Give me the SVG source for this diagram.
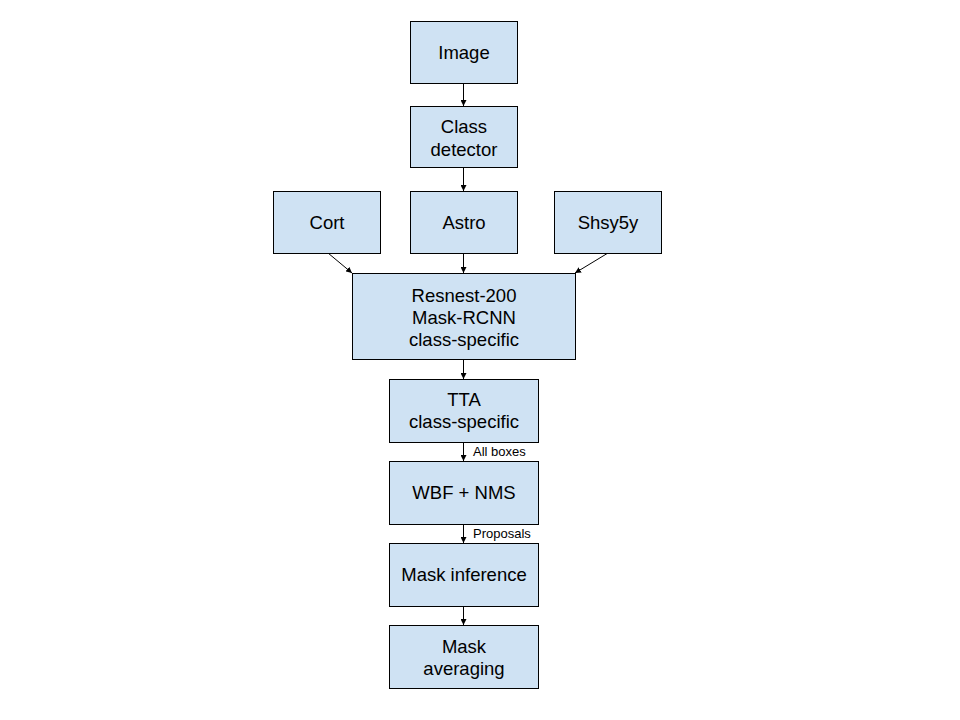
<svg xmlns="http://www.w3.org/2000/svg" width="960" height="720" viewBox="0 0 960 720">
<style>
.n rect{fill:#cfe2f3;stroke:#000;stroke-width:1}
.n text{font-family:"Liberation Sans",Arial,sans-serif;font-size:18.5px;fill:#000;text-anchor:middle}
.c line{stroke:#000;stroke-width:1;marker-end:url(#ah)}
.lbl{font-family:"Liberation Sans",Arial,sans-serif;font-size:13px;fill:#000}
</style>
<defs>
<marker id="ah" viewBox="0 0 10 10" refX="10" refY="5" markerWidth="6" markerHeight="6" markerUnits="userSpaceOnUse" orient="auto">
<path d="M0,0 L10,5 L0,10 z" fill="#000"/>
</marker>
</defs>
<rect width="960" height="720" fill="#fff"/>
<g class="c">
<line x1="463.5" y1="83" x2="463.5" y2="106"/>
<line x1="463.5" y1="167" x2="463.5" y2="191"/>
<line x1="463.5" y1="253" x2="463.5" y2="273"/>
<line x1="328" y1="253" x2="352" y2="273"/>
<line x1="608" y1="253" x2="575" y2="273"/>
<line x1="463.5" y1="359" x2="463.5" y2="379"/>
<line x1="463.5" y1="442" x2="463.5" y2="461"/>
<line x1="463.5" y1="524" x2="463.5" y2="543"/>
<line x1="463.5" y1="606" x2="463.5" y2="625"/>
<text class="lbl" x="473" y="456">All boxes</text>
<text class="lbl" x="473" y="538">Proposals</text>
</g>
<g id="image" class="n"><rect x="410.5" y="21.5" width="107" height="62"/><text x="464" y="59">Image</text></g>
<g id="class-detector" class="n"><rect x="410.5" y="106.5" width="107" height="61"/><text x="464" y="133">Class</text><text x="464" y="156">detector</text></g>
<g id="cort" class="n"><rect x="273.5" y="191.5" width="107" height="62"/><text x="327" y="229">Cort</text></g>
<g id="astro" class="n"><rect x="410.5" y="191.5" width="107" height="62"/><text x="464" y="229">Astro</text></g>
<g id="shsy5y" class="n"><rect x="554.5" y="191.5" width="107" height="62"/><text x="608" y="229">Shsy5y</text></g>
<g id="resnest" class="n"><rect x="352.5" y="273.5" width="223" height="86"/><text x="464" y="302">Resnest-200</text><text x="464" y="324">Mask-RCNN</text><text x="464" y="346">class-specific</text></g>
<g id="tta" class="n"><rect x="389.5" y="379.5" width="149" height="63"/><text x="464" y="406">TTA</text><text x="464" y="428">class-specific</text></g>
<g id="wbf" class="n"><rect x="389.5" y="461.5" width="149" height="63"/><text x="464" y="499">WBF + NMS</text></g>
<g id="mask-inference" class="n"><rect x="389.5" y="543.5" width="149" height="63"/><text x="464" y="581">Mask inference</text></g>
<g id="mask-averaging" class="n"><rect x="389.5" y="625.5" width="149" height="63"/><text x="464" y="653">Mask</text><text x="464" y="675">averaging</text></g>
</svg>
